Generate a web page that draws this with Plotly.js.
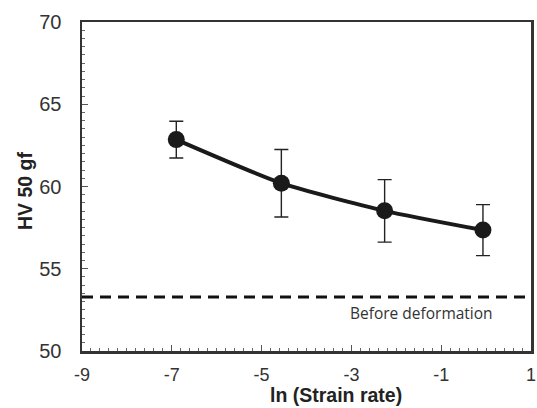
<!DOCTYPE html>
<html><head><meta charset="utf-8">
<script src="https://cdn.plot.ly/plotly-3.0.1.min.js"></script>
<style>body{margin:0;padding:0;background:#fff}#c{width:537px;height:408px}</style>
</head><body><div id="c"></div>
<script>
const lnStrainRate = [-6.9, -4.56, -2.26, -0.07];
const hv = [62.85, 60.2, 58.52, 57.35];
const hvErr = [1.12, 2.05, 1.9, 1.55];
const beforeDeformation = 53.28;
const xRange = [-9, 1];
const yRange = [50, 70];
const xTickVals = [-9, -7, -5, -3, -1, 1];
const xTickText = ['-9', '-7', '-5', '-3', '-1', '1'];
const yTickVals = [50, 55, 60, 65, 70];
const yTickText = ['50', '55', '60', '65', '70'];
const beforeLabel = 'Before deformation';
const xTitle = 'ln (Strain rate)';
const yTitle = 'HV 50 gf';

const traces = [
  {x: xRange, y: [beforeDeformation, beforeDeformation], mode: 'lines',
   line: {color: '#111', width: 3, dash: '11px,7px'}, hoverinfo: 'skip', showlegend: false},
  {x: lnStrainRate, y: hv, mode: 'lines+markers',
   line: {color: '#1a1a1a', width: 4, shape: 'spline', smoothing: 0.6},
   marker: {color: '#1a1a1a', size: 17},
   error_y: {type: 'data', array: hvErr, visible: true, color: '#222', thickness: 1.4, width: 7},
   showlegend: false}
];
const layout = {
  width: 537, height: 408,
  margin: {l: 82, r: 6, t: 22, b: 57},
  paper_bgcolor: '#fff', plot_bgcolor: '#fff',
  font: {family: 'Liberation Sans, Arial, sans-serif', color: '#222'},
  xaxis: {range: xRange, tickmode: 'array', tickvals: xTickVals, ticktext: xTickText,
    ticks: 'inside', ticklen: 6, tickcolor: '#555', ticklabeloverflow: 'allow',
    showgrid: false, zeroline: false, showline: true, linecolor: '#333', linewidth: 2.5, mirror: true,
    minor: {dtick: 0.2, tick0: -9, ticks: 'inside', ticklen: 3, tickcolor: '#666'},
    tickfont: {size: 18, color: '#333'}, ticklabelstandoff: 6},
  yaxis: {range: yRange, tickmode: 'array', tickvals: yTickVals, ticktext: yTickText,
    ticks: 'inside', ticklen: 6, tickcolor: '#555',
    showgrid: false, zeroline: false, showline: true, linecolor: '#333', linewidth: 2.5, mirror: true,
    minor: {dtick: 0.5, tick0: 50, ticks: 'inside', ticklen: 3, tickcolor: '#666'},
    tickfont: {size: 20, color: '#333'}, ticklabelstandoff: 14},
  annotations: [
    {x: -1.45, y: 52.3, xref: 'x', yref: 'y', text: beforeLabel, showarrow: false,
     font: {family: 'Open Sans, sans-serif', size: 15.5, color: '#333'}},
    {text: '<b>' + xTitle + '</b>', xref: 'paper', yref: 'paper', showarrow: false,
     xanchor: 'center', yanchor: 'middle', font: {size: 19.5, color: '#222'}},
    {text: '<b>' + yTitle + '</b>', xref: 'paper', yref: 'paper', showarrow: false,
     xanchor: 'center', yanchor: 'middle', textangle: -90, font: {size: 19.5, color: '#222'}}
  ]
};
// place the axis-title annotations at pixel positions, expressed as plot-area fractions
const pw = 537 - 82 - 6, ph = 408 - 22 - 57;
layout.annotations[1].x = (336 - 82) / pw; layout.annotations[1].y = -(395 - 351) / ph;
layout.annotations[2].x = (25 - 82) / pw; layout.annotations[2].y = (351 - 191) / ph;
Plotly.newPlot('c', traces, layout, {staticPlot: true});
</script></body></html>
